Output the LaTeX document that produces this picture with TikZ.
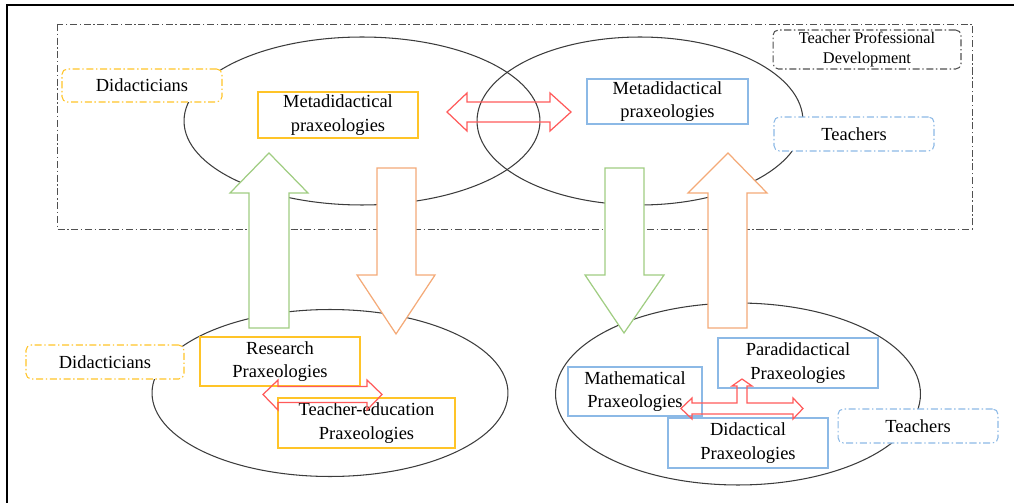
\documentclass[tikz,border=0pt]{standalone}
\usepackage{fontspec}
\setmainfont{Liberation Serif}
\usepackage{tikz}
\usetikzlibrary{shapes.geometric, positioning}
\definecolor{myyellow}{RGB}{255,196,40}
\definecolor{myblue}{RGB}{140,185,230}
\definecolor{mygreen}{RGB}{160,205,130}
\definecolor{myorange}{RGB}{244,170,120}
\definecolor{myred}{RGB}{255,90,90}
\definecolor{mygray}{RGB}{80,80,80}
\definecolor{ellgray}{RGB}{60,60,60}
\tikzset{
  dashdotline/.style={dash pattern=on 4pt off 1.5pt on 0.8pt off 1.5pt},
  ellip/.style={ellipse, draw=ellgray, line width=0.6pt, inner sep=0pt},
  yelbox/.style={rectangle, draw=myyellow, fill=white, align=center,
    line width=0.6pt, inner sep=1pt, font=\fontsize{10.5}{13.5}\selectfont},
  bluebox/.style={yelbox, draw=myblue},
  yelrole/.style={yelbox, rounded corners=3pt, dashdotline},
  bluerole/.style={yelrole, draw=myblue},
  grayrole/.style={yelrole, draw=mygray, font=\fontsize{9.3}{11}\selectfont},
  greenarrow/.style={draw=mygreen, fill=white, line width=0.7pt, line join=miter},
  orangearrow/.style={draw=myorange, fill=white, line width=0.7pt, line join=miter},
  redarrow/.style={draw=myred, line width=0.7pt, line join=miter}
}
\begin{document}
\begin{tikzpicture}[x=0.02cm, y=-0.02cm]
  \useasboundingbox (0,0) rectangle (1014,503);
  % frame
  \draw[line width=1.3pt] (7,503) -- (7,5) -- (1014,5);

  % Teacher professional development area
  \draw[draw=mygray, line width=0.5pt, dashdotline] (57,24) rectangle (972,229);

  % ellipses
  \node[ellip, minimum width=7.12cm, minimum height=3.36cm] (ellDid) at (362,121) {};
  \node[ellip, minimum width=6.52cm, minimum height=3.36cm] (ellTch) at (640,121) {};
  \node[ellip, minimum width=7.12cm, minimum height=3.34cm] (ellRes) at (330,393) {};
  \node[ellip, minimum width=7.30cm, minimum height=3.64cm] (ellCls) at (738,394) {};

  % block arrows between the levels
  \draw[greenarrow] (249,328) -- (249,193) -- (230,193) -- (269,153)
    -- (308,193) -- (289,193) -- (289,328) -- cycle;
  \draw[orangearrow] (377,168) -- (377,275) -- (357,275) -- (396,334)
    -- (435,275) -- (416,275) -- (416,168) -- cycle;
  \draw[greenarrow] (605,168) -- (605,275) -- (585,275) -- (624,333)
    -- (664,275) -- (644,275) -- (644,168) -- cycle;
  \draw[orangearrow] (708,328) -- (708,193) -- (688,193) -- (728,153)
    -- (767,193) -- (747,193) -- (747,328) -- cycle;

  % upper level
  \node[yelrole, minimum width=3.2cm, minimum height=0.66cm] (didTop) at (142,85.5) {Didacticians};
  \node[yelbox, minimum width=3.2cm, minimum height=0.92cm] (metaDid) at (338,115) {Metadidactical\\praxeologies};
  \node[bluebox, minimum width=3.22cm, minimum height=0.9cm] (metaTch) at (667.5,101.5) {Metadidactical\\praxeologies};
  \node[grayrole, minimum width=3.76cm, minimum height=0.78cm] (tpd) at (867,49.5) {Teacher Professional\\Development};
  \node[bluerole, minimum width=3.2cm, minimum height=0.68cm] (tchTop) at (854,134) {Teachers};

  % lower left
  \node[yelrole, minimum width=3.16cm, minimum height=0.68cm] (didBot) at (105,362) {Didacticians};
  \node[yelbox, minimum width=3.2cm, minimum height=0.98cm] (resPrax) at (280,361.5) {Research\\Praxeologies};
  \node[yelbox, minimum width=3.54cm, minimum height=1.0cm] (eduPrax) at (366.5,423) {Teacher-education\\Praxeologies};

  % lower right
  \node[bluebox, minimum width=2.68cm, minimum height=0.98cm] (mathPrax) at (635,391.5) {Mathematical\\Praxeologies};
  \node[bluebox, minimum width=3.2cm, minimum height=1.0cm] (paraPrax) at (798,363) {Paradidactical\\Praxeologies};
  \node[bluebox, minimum width=3.2cm, minimum height=1.0cm] (didaPrax) at (748,443) {Didactical\\Praxeologies};
  \node[bluerole, minimum width=3.2cm, minimum height=0.68cm] (tchBot) at (918,426) {Teachers};

  % red double arrows
  \draw[redarrow] (447,112) -- (467,93) -- (467,102) -- (550,102) -- (550,93)
    -- (571,112) -- (550,131) -- (550,122) -- (467,122) -- (467,131) -- cycle;
  \draw[redarrow] (263,394.5) -- (278,380) -- (278,386.5) -- (367,386.5) -- (367,380)
    -- (382,394.5) -- (367,410) -- (367,402.5) -- (278,402.5) -- (278,410) -- cycle;
  \draw[redarrow] (681,408.5) -- (692,398) -- (692,403) -- (737,403) -- (737,386)
    -- (732,386) -- (742,379) -- (752,386) -- (747,386) -- (747,403) -- (793,403)
    -- (793,398) -- (803,408.5) -- (793,419) -- (793,414) -- (692,414) -- (692,419) -- cycle;
\end{tikzpicture}
\end{document}
